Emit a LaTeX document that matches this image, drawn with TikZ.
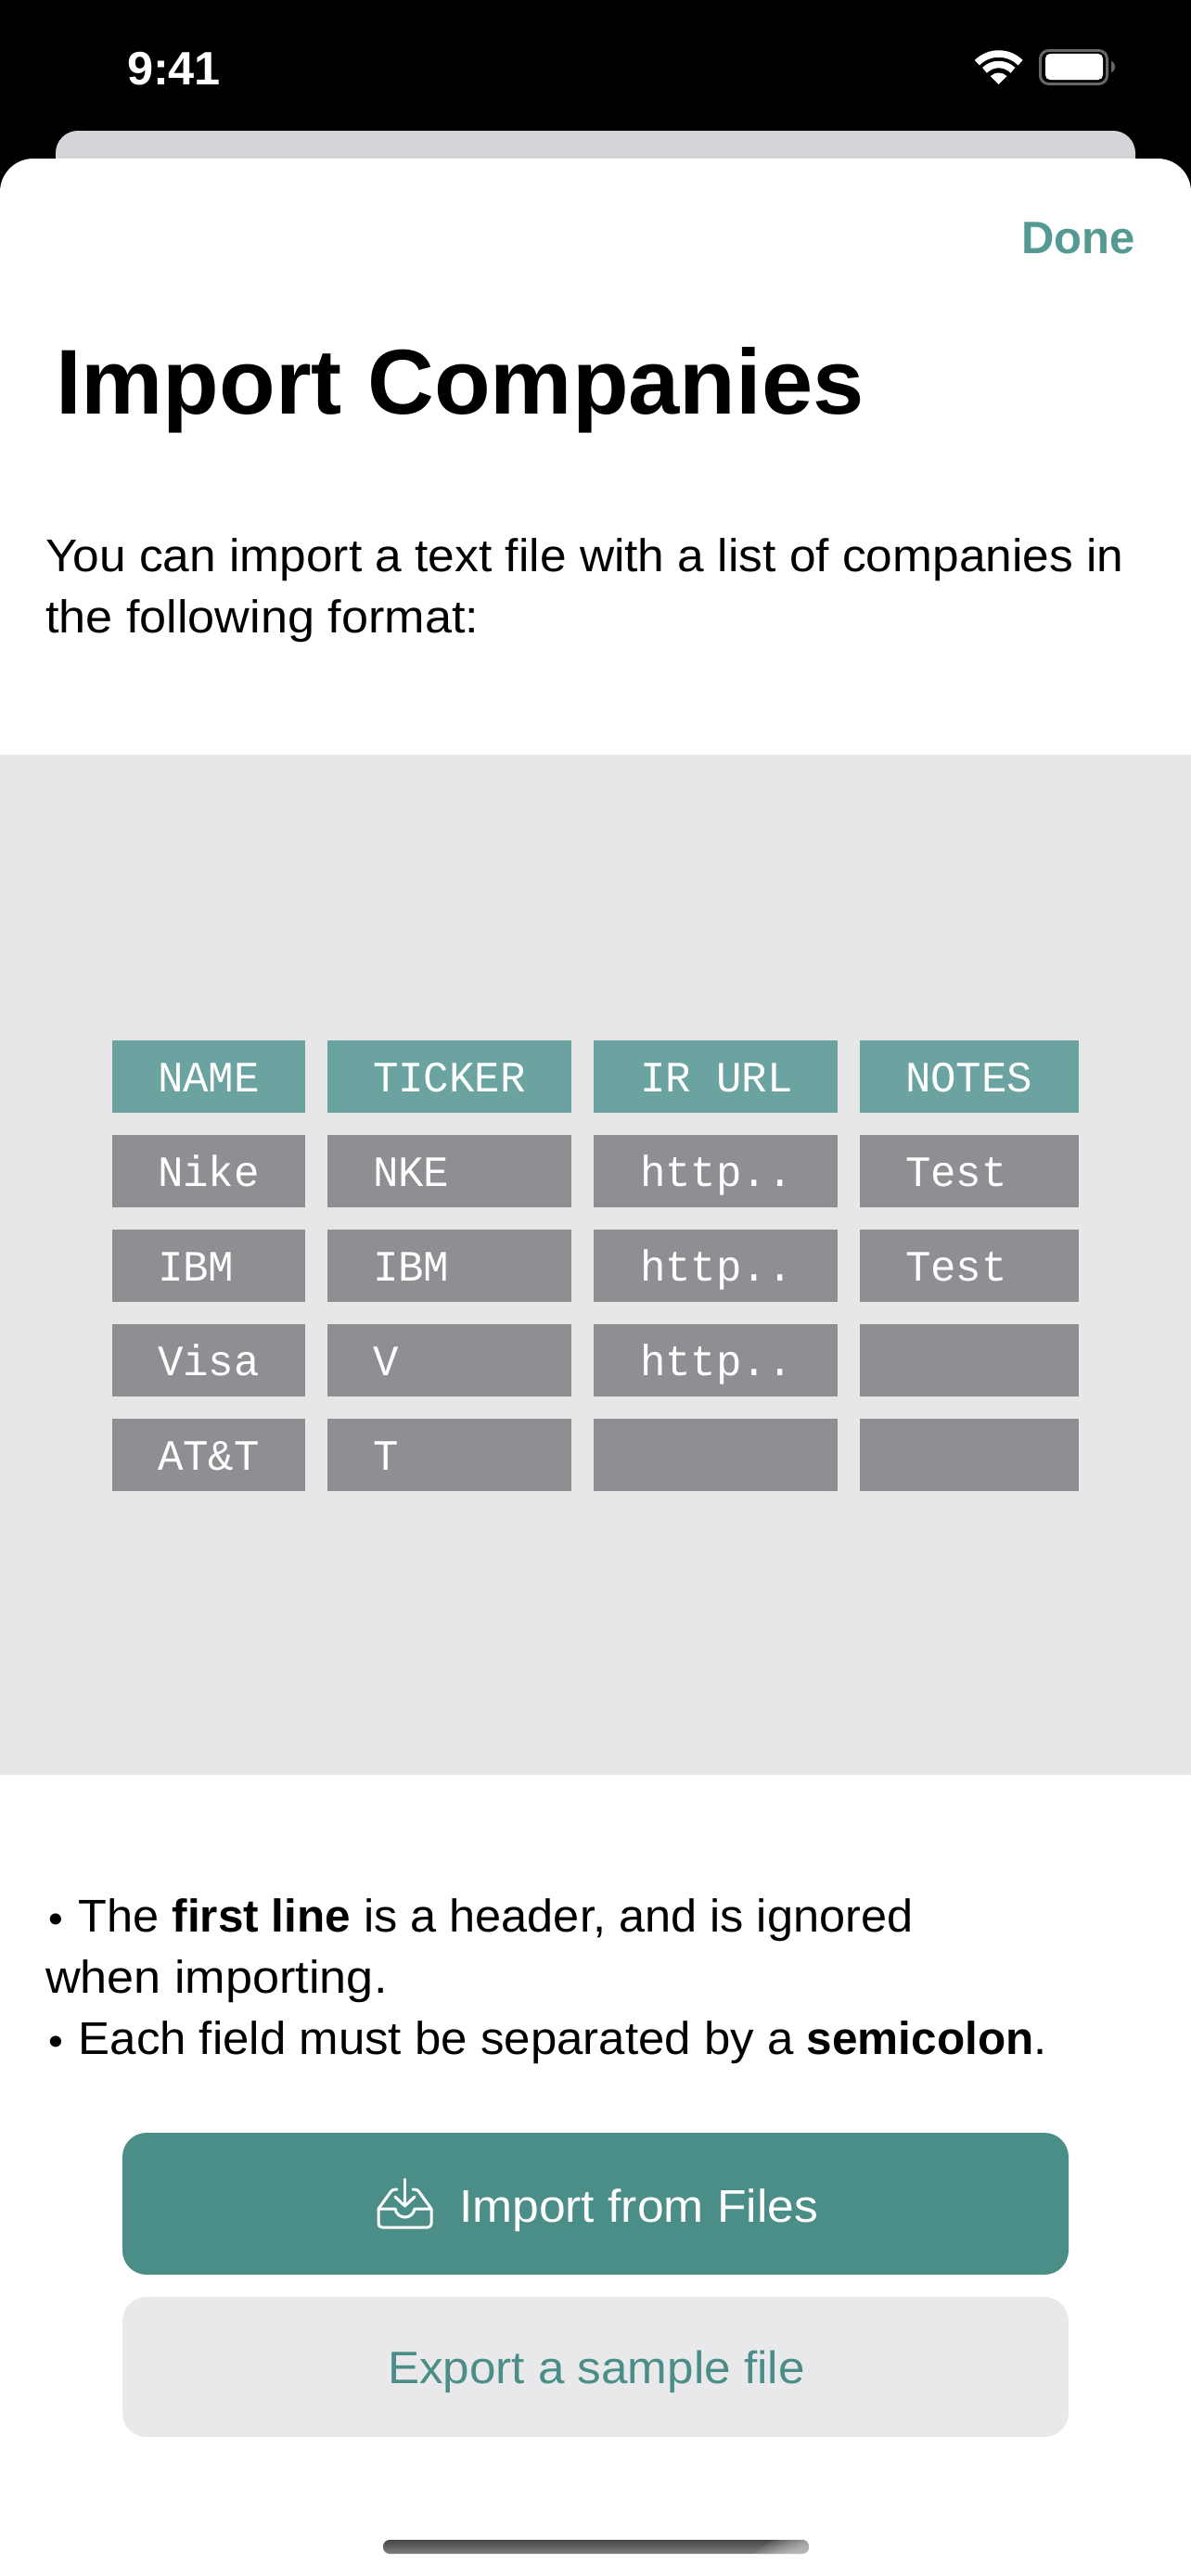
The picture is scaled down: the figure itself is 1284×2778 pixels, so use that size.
\documentclass[tikz,border=0pt]{standalone}
\usepackage{fontspec}
\setmainfont{Liberation Sans}
\newfontfamily\monofam[FakeStretch=0.98]{Liberation Mono}
\newfontfamily\regfam[FakeStretch=1.045]{Liberation Sans}
\newfontfamily\introfam[FakeStretch=1.04]{Liberation Sans}
\newfontfamily\widefam[FakeStretch=1.055]{Liberation Sans}
\newfontfamily\notefam[FakeStretch=1.02]{Liberation Sans}
\newfontfamily\noteBfam[FakeStretch=1.03]{Liberation Sans}
\newfontfamily\boldfam{Liberation Sans Bold}
\definecolor{teal}{HTML}{4A8E87}
\definecolor{headcell}{HTML}{6AA39F}
\definecolor{graycell}{HTML}{8E8E93}
\definecolor{panel}{HTML}{E7E7E7}
\definecolor{btngray}{HTML}{E9E9EB}
\definecolor{cardgray}{HTML}{D4D4D9}
\definecolor{donecol}{HTML}{549A93}
\newcommand{\fsz}[1]{\fontsize{#1}{#1}\selectfont}
\newcommand{\smallbul}{\kern2.3pt{\fsz{44}\raisebox{-1.5pt}{•}}}
\tikzset{
  txt/.style={inner sep=0pt,outer sep=0pt,anchor=base west},
  body/.style={txt,font=\regfam\fsz{49.5},text=black},
  note/.style={txt,font=\notefam\fsz{49.5},text=black},
  mono/.style={txt,font=\monofam\fsz{46.7},text=white},
  icon/.style={draw=white,line width=3pt,line cap=round,line join=round}
}
\begin{document}
\begin{tikzpicture}[x=1pt,y=-1pt]
\useasboundingbox (0,0) rectangle (1284,2778);
\fill[black] (0,0) rectangle (1284,2778);
% background card and sheet
\fill[cardgray] (60,200) -- (60,165) arc[start angle=180,end angle=270,radius=24] -- (1200,141) arc[start angle=270,end angle=360,radius=24] -- (1224,200) -- cycle;
\fill[white] (0,2778) -- (0,207) arc[start angle=180,end angle=270,radius=36] -- (1248,171) arc[start angle=270,end angle=360,radius=36] -- (1284,2778) -- cycle;
% status bar
\node[txt,font=\bfseries\fsz{50.5},text=white] (clock) at (137,91) {9:41};
\coordinate (wf) at (1076.7,91);
\fill[white] (wf) -- ++(-135:12.5) arc[start angle=-135,end angle=-45,radius=12.5] -- cycle;
\draw[white,line width=7.5pt] (wf) ++(-135:21.5) arc[start angle=-135,end angle=-45,radius=21.5];
\draw[white,line width=7.5pt] (wf) ++(-135:33) arc[start angle=-135,end angle=-45,radius=33];
\draw[draw=black!60!white,line width=3pt,rounded corners=9pt] (1121.5,54.5) rectangle (1193.5,90.5);
\fill[white,rounded corners=5pt] (1127,58) rectangle (1189,86);
\fill[black!60!white] (1198,66) -- (1200,67) -- (1202,70) -- (1202,74) -- (1200,77) -- (1198,78) -- cycle;
% header
\node[txt,font=\bfseries\fsz{49},text=donecol] (done) at (1101,273) {Done};
\node[txt,font=\bfseries\fsz{99.3},text=black] (title) at (60,446) {Import Companies};
\node[body,font=\introfam\fsz{49.5}] (intro1) at (49,616) {You can import a text file with a list of companies in};
\node[body,font=\widefam\fsz{49.5}] (intro2) at (49,682) {the following format:};
% table panel
\fill[panel] (0,814) rectangle (1284,1914);
\foreach \nm/\xa/\xb/\xt/\ta/\tb/\tc/\td/\te in {
  a/121/329/170/NAME/Nike/IBM/Visa/AT\&T,
  b/353/616/402/TICKER/NKE/IBM/V/T,
  c/640/903/690/IR URL/http../http../http../,
  d/927/1163/976/NOTES/Test/Test//}{
  \fill[headcell] (\xa,1122) rectangle (\xb,1200);
  \fill[graycell] (\xa,1224) rectangle (\xb,1302);
  \fill[graycell] (\xa,1326) rectangle (\xb,1404);
  \fill[graycell] (\xa,1428) rectangle (\xb,1506);
  \fill[graycell] (\xa,1530) rectangle (\xb,1608);
  \node[mono] (\nm0) at (\xt,1177) {\ta};
  \node[mono] (\nm1) at (\xt,1279) {\tb};
  \node[mono] (\nm2) at (\xt,1381) {\tc};
  \node[mono] (\nm3) at (\xt,1483) {\td};
  \node[mono] (\nm4) at (\xt,1585) {\te};
}
% notes
\node[note] (n1) at (50,2083) {\smallbul\kern16.5pt The {\boldfam first line} is a header, and is ignored};
\node[body,font=\widefam\fsz{49.5}] (n2) at (49,2149) {when importing.};
\node[note,font=\noteBfam\fsz{49.5}] (n3) at (50,2215) {\smallbul\kern16.5pt Each field must be separated by a {\boldfam semicolon}.};
% buttons
\fill[teal,rounded corners=26pt] (132,2300) rectangle (1152,2453);
\fill[btngray,rounded corners=26pt] (132,2477) rectangle (1152,2628);
\draw[icon,rounded corners=4pt] (408,2382) -- (408,2402) -- (465,2402) -- (465,2382);
\draw[icon] (408,2382) -- (421,2364) .. controls (423,2361) and (425,2361) .. (428,2361);
\draw[icon] (465,2382) -- (452,2364) .. controls (450,2361) and (448,2361) .. (445,2361);
\draw[icon] (408,2382) -- (426,2382) .. controls (428,2394) and (445,2394) .. (447,2382) -- (465,2382);
\draw[icon] (436.5,2350) -- (436.5,2379);
\draw[icon] (426,2369) -- (436.5,2379) -- (447,2369);
\node[txt,font=\regfam\fsz{49.4},text=white] (imp) at (495,2396) {Import from Files};
\node[txt,font=\regfam\fsz{49},text=teal] (exp) at (418,2570.5) {Export a sample file};
% home bar
\begin{scope}
\clip[rounded corners=7pt] (413,2739) rectangle (872,2754);
\shade[top color=black!72!white,bottom color=black!50!white] (413,2739) rectangle (872,2754);
\foreach \i in {0,...,8}{
  \fill[white,opacity=.07] (872-\i*5,2739) -- (872,2739) -- (872,2754) -- (872-\i*5-20,2754) -- cycle;
}
\end{scope}
\end{tikzpicture}
\end{document}
